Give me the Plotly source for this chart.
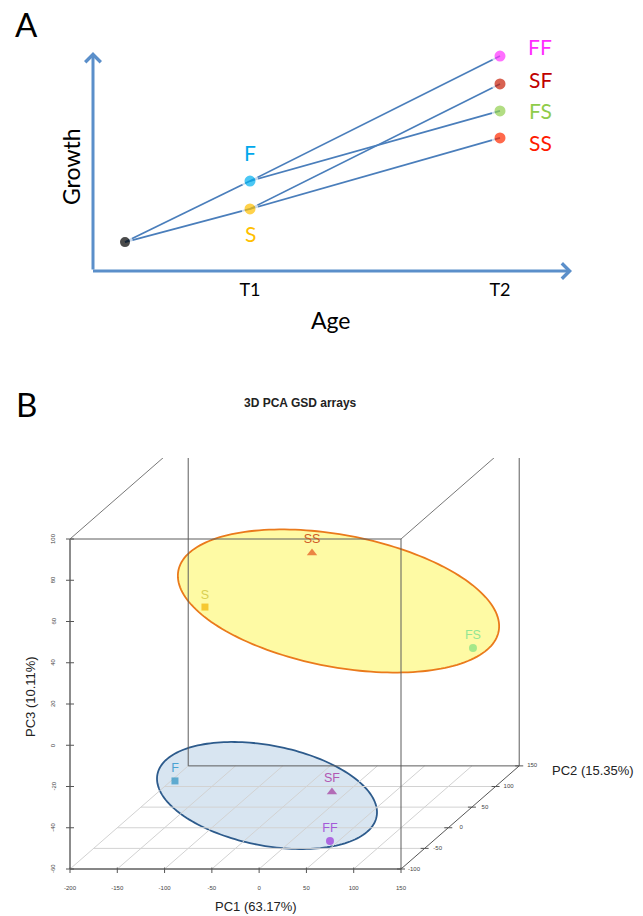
import numpy as np
import plotly.graph_objects as go

W, H = 643, 916          # reference picture size
OFF = 0                  # body margin is removed by the post script below
FW, FH = W - 2 * OFF, H - 2 * OFF

# ---------------- Panel A data (schematic growth) ----------------
a_names = ["start", "F", "S", "FF", "SF", "FS", "SS"]
a_age = [0.5, 1, 1, 2, 2, 2, 2]
a_growth = [1.07, 3.33, 2.30, 7.96, 6.93, 5.93, 4.93]
a_links = [("start", "F"), ("start", "S"), ("F", "FF"), ("F", "FS"), ("S", "SF"), ("S", "SS")]
age_tickvals = [1, 2]
age_ticktext = ["T1", "T2"]

# ---------------- Panel B data (3D PCA) ----------------
pca_names = ["SS", "S", "FS", "F", "SF", "FF"]
pc1 = [-24.1, -87.3, 116.1, -149.0, 7.0, 54.9]
pc2 = [60, -40, 120, 20, 40, -60]
pc3 = [61.2, 55.0, 3.2, -41.3, -50.7, -54.4]
pc1_ticks = [-200, -150, -100, -50, 0, 50, 100, 150]
pc2_ticks = [-100, -50, 0, 50, 100, 150]
pc3_ticks = [-60, -40, -20, 0, 20, 40, 60, 80, 100]

# ---------------- styles ----------------
A_FONT = "Lato"
B_FONT = "Liberation Sans"
a_dot_colors = ["#000000", "#00b0f0", "#ffc000", "#ff33ff", "#c8200a", "#92d050", "#ff2a00"]
a_dot_sizes = [13, 14, 14, 14, 14, 14, 14]
a_label_colors = {"F": "#00a8ec", "S": "#ffbf00", "FF": "#ff2cff",
                  "SF": "#c00000", "FS": "#8fcc4a", "SS": "#ff1a00"}
a_label_shift = {"F": (0, 29), "S": (0, -25), "FF": (40, 10),
                 "SF": (40, 4), "FS": (40, 0), "SS": (40, -5)}
AXIS_BLUE = "#5b8fca"
LINE_BLUE = "#4a7ebb"

b_marker_colors = ["#e2521a", "#f2b200", "#7fe07f", "#2b91c2", "#a2399c", "#9b33da"]
b_label_colors = ["#cf5a26", "#d8d052", "#93e693", "#4aa3d3", "#b257b2", "#a45ad8"]
b_symbols = ["triangle-up", "square", "circle", "square", "triangle-up", "circle"]
b_sizes = [9, 7, 8, 7, 9, 8]


def paper(px, py):
    return (px - OFF) / FW, 1 - (py - OFF) / FH


# ---------------- panel A axes geometry ----------------
A_X_PX0 = 250.0      # reference pixel x of age 1
A_X_PXU = 250.0      # px per age unit
A_BASE_PY = 271.0    # reference pixel y of growth 0
A_PXU = 27.0         # px per growth unit


def a_age_at(px):
    return 1 + (px - A_X_PX0) / A_X_PXU


a_xrange = [a_age_at(OFF), a_age_at(OFF + FW)]
a_ydom = [paper(0, A_BASE_PY)[1], 1]
a_yrange = [0, (A_BASE_PY - OFF) / A_PXU]

# ---------------- panel B projection geometry ----------------
B_LEFT_PX, B_RIGHT_PX = 70.0, 401.0     # PC1 -200 .. 150 on front plane
B_BOT_PY, B_TOP_PY = 869.0, 539.0       # PC3 -60 .. 100 on front plane
P2MIN, P2MAX = pc2_ticks[0], pc2_ticks[-1]
P1MIN, P1MAX = pc1_ticks[0], pc1_ticks[-1]
P3MIN, P3MAX = pc3_ticks[0], pc3_ticks[-1]
kx = (B_RIGHT_PX - B_LEFT_PX) / (P1MAX - P1MIN)
ky = (B_BOT_PY - B_TOP_PY) / (P3MAX - P3MIN)
SHIFT_X, SHIFT_Y = 0.5, 0.2             # oblique shift per PC2 unit (data units)
B_YDOM_TOP = 0.5
B_DOM_TOP_PY = OFF + FH * (1 - B_YDOM_TOP)


def bx_at(px):
    return P1MIN + (px - B_LEFT_PX) / kx


def by_at(py):
    return P3MIN + (B_BOT_PY - py) / ky


b_xrange = [bx_at(OFF), bx_at(OFF + FW)]
b_yrange = [by_at(OFF + FH), by_at(B_DOM_TOP_PY)]


def proj(a, b, c):
    return a + SHIFT_X * (b - P2MIN), c + SHIFT_Y * (b - P2MIN)


fig = go.Figure()

# ======== Panel A ========
idx = {n: i for i, n in enumerate(a_names)}
for s, e in a_links:
    fig.add_trace(go.Scatter(x=[a_age[idx[s]], a_age[idx[e]]],
                             y=[a_growth[idx[s]], a_growth[idx[e]]],
                             mode="lines", line=dict(color=LINE_BLUE, width=1.7),
                             xaxis="x", yaxis="y", hoverinfo="skip"))
fig.add_trace(go.Scatter(x=a_age, y=a_growth, mode="markers",
                         marker=dict(color=a_dot_colors, size=a_dot_sizes,
                                     line=dict(color="white", width=3)),
                         xaxis="x", yaxis="y", cliponaxis=False, hoverinfo="skip"))

annotations = []
for n in a_names[1:]:
    i = idx[n]
    dx, dy = a_label_shift[n]
    annotations.append(dict(x=a_age[i], y=a_growth[i], xref="x", yref="y",
                            text=n, showarrow=False, xshift=dx, yshift=dy,
                            xanchor="center", yanchor="middle",
                            font=dict(family=A_FONT, size=21, color=a_label_colors[n])))

# axis arrows
ax_tail_x = a_age_at(93)
annotations.append(dict(x=ax_tail_x, y=(A_BASE_PY - 52) / A_PXU, ax=ax_tail_x, ay=0,
                        xref="x", yref="y", axref="x", ayref="y", text="",
                        showarrow=True, arrowhead=4, arrowsize=1.0, arrowwidth=3,
                        arrowcolor=AXIS_BLUE, standoff=0, startstandoff=0))
annotations.append(dict(x=a_age_at(572), y=0, ax=a_age_at(91.5), ay=0,
                        xref="x", yref="y", axref="x", ayref="y", text="",
                        showarrow=True, arrowhead=4, arrowsize=1.0, arrowwidth=3,
                        arrowcolor=AXIS_BLUE, standoff=0, startstandoff=0))


def ptext(px, py, text, size, family, color="black", angle=0):
    x, y = paper(px, py)
    return dict(x=x, y=y, xref="paper", yref="paper", text=text, showarrow=False,
                xanchor="center", yanchor="middle", textangle=angle,
                font=dict(family=family, size=size, color=color))


annotations += [
    ptext(26, 24, "A", 33, A_FONT),
    ptext(71, 167, "Growth", 23, A_FONT, angle=-90),
    ptext(331, 320, "Age", 23, A_FONT),
]

# ======== Panel B ========
GRID = "#d2d2d2"
DARK = "#5c5c5c"


def seg(p, q, color, width):
    fig.add_trace(go.Scatter(x=[p[0], q[0]], y=[p[1], q[1]], mode="lines",
                             line=dict(color=color, width=width), xaxis="x2", yaxis="y2",
                             hoverinfo="skip", cliponaxis=False))


# floor grid
for t in pc1_ticks[:-1]:
    seg(proj(t, P2MIN, P3MIN), proj(t, P2MAX, P3MIN), GRID, 1)
for s in pc2_ticks[1:-1]:
    seg(proj(P1MIN, s, P3MIN), proj(P1MAX, s, P3MIN), GRID, 1)

# box
for b in (P2MIN, P2MAX):
    corners = [proj(P1MIN, b, P3MIN), proj(P1MAX, b, P3MIN), proj(P1MAX, b, P3MAX),
               proj(P1MIN, b, P3MAX), proj(P1MIN, b, P3MIN)]
    for p, q in zip(corners[:-1], corners[1:]):
        seg(p, q, DARK, 1)
seg(proj(P1MIN, P2MIN, P3MAX), proj(P1MIN, P2MAX, P3MAX), "#777777", 1)
seg(proj(P1MAX, P2MIN, P3MAX), proj(P1MAX, P2MAX, P3MAX), "#777777", 1)
seg(proj(P1MAX, P2MIN, P3MIN), proj(P1MAX, P2MAX, P3MIN), "#555555", 1)
# emphasised axes
seg(proj(P1MIN, P2MIN, P3MIN), proj(P1MIN, P2MIN, P3MAX), "#8c8c8c", 2)
seg(proj(P1MIN, P2MIN, P3MIN), proj(P1MAX, P2MIN, P3MIN), "#7a7a7a", 1.5)

# ticks
for t in pc3_ticks:
    x0, y0 = proj(P1MIN, P2MIN, t)
    seg((x0 - 4 / kx, y0), (x0 + 4 / kx, y0), "#555555", 1)
for t in pc1_ticks:
    x0, y0 = proj(t, P2MIN, P3MIN)
    seg((x0, y0 + 1.5 / ky), (x0, y0 - 4 / ky), "#555555", 1)
for s in pc2_ticks:
    x0, y0 = proj(P1MAX, s, P3MIN)
    seg((x0 - 4 / kx, y0), (x0 + 4 / kx, y0), "#555555", 1)

# tick labels
fig.add_trace(go.Scatter(x=[proj(t, P2MIN, P3MIN)[0] for t in pc1_ticks],
                         y=[proj(t, P2MIN, P3MIN)[1] - 19 / ky for t in pc1_ticks],
                         mode="text", text=[str(t) for t in pc1_ticks],
                         textfont=dict(family=B_FONT, size=6, color="#444444"),
                         xaxis="x2", yaxis="y2", hoverinfo="skip", cliponaxis=False))
fig.add_trace(go.Scatter(x=[proj(P1MAX, s, P3MIN)[0] + 13 / kx for s in pc2_ticks],
                         y=[proj(P1MAX, s, P3MIN)[1] for s in pc2_ticks],
                         mode="text", text=[str(s) for s in pc2_ticks],
                         textfont=dict(family=B_FONT, size=6, color="#444444"),
                         xaxis="x2", yaxis="y2", hoverinfo="skip", cliponaxis=False))
for t in pc3_ticks:
    x0, y0 = proj(P1MIN, P2MIN, t)
    annotations.append(dict(x=x0 - 17 / kx, y=y0, xref="x2", yref="y2", text=str(t),
                            showarrow=False, textangle=-90, xanchor="center", yanchor="middle",
                            font=dict(family=B_FONT, size=6, color="#444444")))

# ellipses (screen-space, drawn under the box lines)
ellipses = [
    dict(c=(338.5, 601.0), a=163.0, b=66.0, ang=10.7, fill="#fefaa4", line="#ea7a1c"),
    dict(c=(267.0, 795.5), a=111.6, b=50.1, ang=10.9, fill="#d8e5f1", line="#2d5b8c"),
]
shapes = []
tt = np.linspace(0, 2 * np.pi, 181)
for e in ellipses:
    th = np.deg2rad(e["ang"])
    pxs = e["c"][0] + e["a"] * np.cos(th) * np.cos(tt) - e["b"] * np.sin(th) * np.sin(tt)
    pys = e["c"][1] + e["a"] * np.sin(th) * np.cos(tt) + e["b"] * np.cos(th) * np.sin(tt)
    path = "M " + " L ".join(f"{bx_at(u):.3f},{by_at(v):.3f}" for u, v in zip(pxs, pys)) + " Z"
    shapes.append(dict(type="path", path=path, xref="x2", yref="y2", layer="below",
                       fillcolor=e["fill"], line=dict(color=e["line"], width=1.8)))

# points
bxs = [proj(a, b, c)[0] for a, b, c in zip(pc1, pc2, pc3)]
bys = [proj(a, b, c)[1] for a, b, c in zip(pc1, pc2, pc3)]
fig.add_trace(go.Scatter(x=bxs, y=bys, mode="markers+text", text=pca_names,
                         textposition="top center",
                         textfont=dict(family=B_FONT, size=12.5, color=b_label_colors),
                         marker=dict(color=b_marker_colors, symbol=b_symbols, size=b_sizes,
                                     line=dict(width=0)),
                         xaxis="x2", yaxis="y2", hoverinfo="skip", cliponaxis=False))

annotations += [
    ptext(26, 404, "B", 33, A_FONT),
    ptext(300, 403, "<b>3D PCA GSD arrays</b>", 12, B_FONT, "#222222"),
    ptext(256, 906, "PC1 (63.17%)", 13, B_FONT, "#222222"),
    ptext(593, 770, "PC2 (15.35%)", 13, B_FONT, "#222222"),
    ptext(30, 697, "PC3 (10.11%)", 13, B_FONT, "#222222", angle=-90),
]

hidden = dict(showgrid=False, zeroline=False, showline=False, showticklabels=False, ticks="")
fig.update_layout(
    width=FW, height=FH, margin=dict(l=0, r=0, t=0, b=0),
    paper_bgcolor="white", plot_bgcolor="white", showlegend=False,
    xaxis=dict(domain=[0, 1], range=a_xrange, anchor="y", showgrid=False, zeroline=False,
               showline=False, tickvals=age_tickvals, ticktext=age_ticktext,
               ticks="outside", ticklen=2, tickcolor="rgba(0,0,0,0)",
               tickfont=dict(family=A_FONT, size=18, color="black")),
    yaxis=dict(domain=a_ydom, range=a_yrange, anchor="x", **hidden),
    xaxis2=dict(domain=[0, 1], range=b_xrange, anchor="y2", **hidden),
    yaxis2=dict(domain=[0, B_YDOM_TOP], range=b_yrange, anchor="x2", **hidden),
    annotations=annotations, shapes=shapes,
)

fig.write_html("out.html", config={"displayModeBar": False},
               post_script="document.body.style.margin='0';document.body.style.overflow='hidden';")
